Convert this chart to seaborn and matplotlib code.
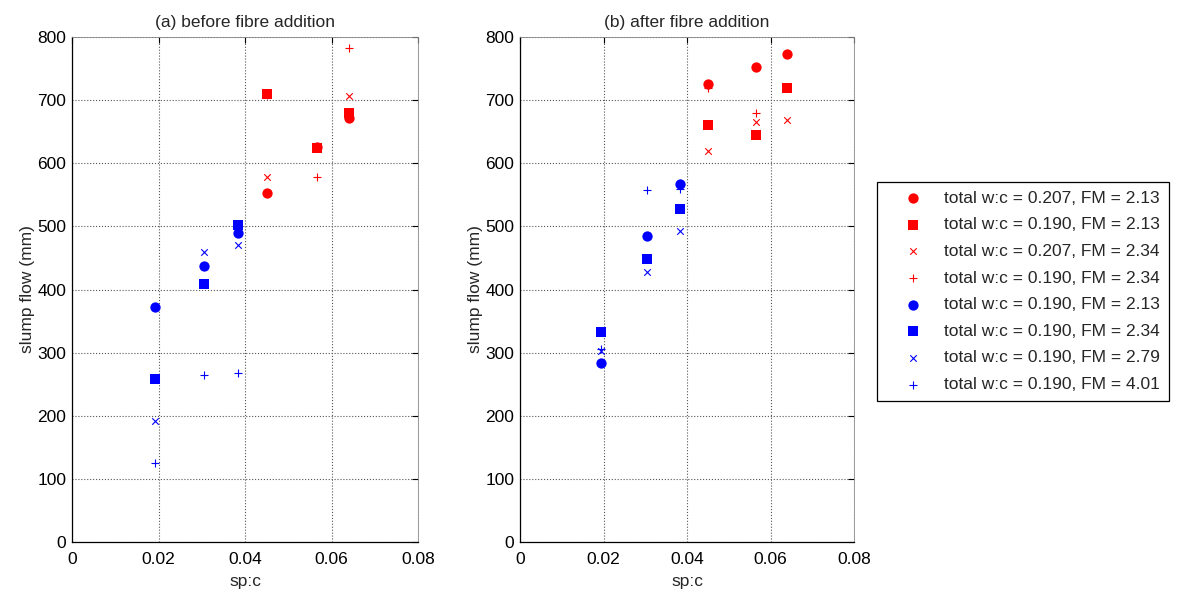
import numpy as np
import pandas as pd
import matplotlib
matplotlib.use("Agg")
import matplotlib.pyplot as plt
import seaborn as sns

# ---- data ----
x_red = [0.0450, 0.0566, 0.0640]
x_blue = [0.0193, 0.0305, 0.0383]

labels = [
    "total w:c = 0.207, FM = 2.13",
    "total w:c = 0.190, FM = 2.13",
    "total w:c = 0.207, FM = 2.34",
    "total w:c = 0.190, FM = 2.34",
    "total w:c = 0.190, FM = 2.13 ",
    "total w:c = 0.190, FM = 2.34 ",
    "total w:c = 0.190, FM = 2.79",
    "total w:c = 0.190, FM = 4.01",
]
legend_texts = [l.strip() for l in labels]

# (a) before fibre addition
before_r_circle = [553, 625, 672]
before_r_square = [709, 624, 679]
before_r_x = [578, 628, 707]
before_r_plus = [708, 578, 782]
before_b_circle = [372, 438, 489]
before_b_square = [258, 409, 502]
before_b_x = [192, 460, 471]
before_b_plus = [125, 265, 268]

# (b) after fibre addition
after_r_circle = [725, 753, 773]
after_r_square = [661, 645, 719]
after_r_x = [620, 666, 668]
after_r_plus = [720, 680, 720]
after_b_circle = [284, 485, 567]
after_b_square = [332, 448, 528]
after_b_x = [302, 427, 493]
after_b_plus = [305, 558, 559]

titles = ["(a) before fibre addition", "(b) after fibre addition"]
xticks = [0, 0.02, 0.04, 0.06, 0.08]
xticklabels = ["0", "0.02", "0.04", "0.06", "0.08"]
yticks = [0, 100, 200, 300, 400, 500, 600, 700, 800]

def build(vals):
    rows = []
    xs = [x_red] * 4 + [x_blue] * 4
    for lab, xx, yy in zip(labels, xs, vals):
        for a, b in zip(xx, yy):
            rows.append({"sp:c": a, "slump": b, "series": lab})
    return pd.DataFrame(rows)

df_before = build([before_r_circle, before_r_square, before_r_x, before_r_plus,
                   before_b_circle, before_b_square, before_b_x, before_b_plus])
df_after = build([after_r_circle, after_r_square, after_r_x, after_r_plus,
                  after_b_circle, after_b_square, after_b_x, after_b_plus])

# ---- style ----
sns.set_theme(style="white")
plt.rcParams["font.family"] = ["Liberation Sans", "DejaVu Sans"]
FS = 12.5

RED = "#ff0000"
BLUE = "#0000ff"
colors = [RED] * 4 + [BLUE] * 4
marks = ["o", "s", "x", "+", "o", "s", "x", "+"]
sizes = [55, 45, 22, 30, 55, 45, 22, 30]

fig = plt.figure(figsize=(11.78, 5.90), dpi=100)
W, H = 1178, 590
ax1 = fig.add_axes([72 / W, (H - 542) / H, 346 / W, 505 / H])
ax2 = fig.add_axes([520 / W, (H - 542) / H, 334 / W, 505 / H])

for ax, df, title in [(ax1, df_before, titles[0]), (ax2, df_after, titles[1])]:
    for lab, c, m, s in zip(labels, colors, marks, sizes):
        sub = df[df["series"] == lab]
        lw = 0.8 if m in ("x", "+") else 0
        sns.scatterplot(data=sub, x="sp:c", y="slump", ax=ax, color=c,
                        marker=m, s=s, linewidth=lw,
                        edgecolor=c if m in ("o", "s") else None,
                        label=lab.strip(), legend=False, zorder=3)
    ax.set_xlim(0, 0.08)
    ax.set_ylim(0, 800)
    ax.set_xticks(xticks)
    ax.set_xticklabels(xticklabels)
    ax.set_yticks(yticks)
    ax.grid(True, color="#555555", linestyle=":", linewidth=0.8)
    ax.set_axisbelow(True)
    ax.tick_params(direction="in", length=4, top=True, right=True,
                   labelsize=FS, colors="black", width=0.8)
    ax.tick_params(axis="x", pad=7)
    ax.tick_params(axis="y", pad=4)
    for side in ["left", "bottom"]:
        ax.spines[side].set_color("black")
        ax.spines[side].set_linewidth(0.9)
    for side in ["top", "right"]:
        ax.spines[side].set_color("#888888")
        ax.spines[side].set_linewidth(0.6)
    ax.set_xlabel("sp:c", fontsize=FS, labelpad=5)
    ax.set_ylabel("slump flow (mm)", fontsize=FS, labelpad=2)
    ax.set_title(title, fontsize=FS, pad=7)

handles, _ = ax1.get_legend_handles_labels()
leg = fig.legend(handles, legend_texts, loc="upper left",
                 bbox_to_anchor=(877 / W, (H - 182) / H),
                 frameon=True, fancybox=False, edgecolor="black",
                 framealpha=1, fontsize=FS, borderaxespad=0,
                 handletextpad=0.27, labelspacing=0.66, borderpad=0.5,
                 handlelength=3.1, scatterpoints=1)
leg.get_frame().set_linewidth(0.9)

fig.savefig("out.png", dpi=100)
